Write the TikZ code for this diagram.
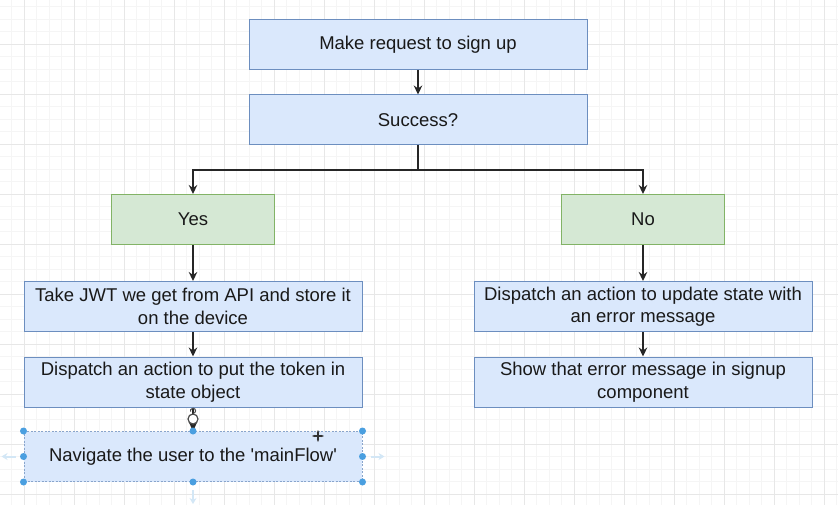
\documentclass[tikz,border=0pt]{standalone}
\usepackage{fontspec}
\setmainfont{Liberation Sans}
\usetikzlibrary{arrows.meta}

\definecolor{boxblue}{HTML}{DAE8FC}
\definecolor{edgeblue}{HTML}{6C8EBF}
\definecolor{boxgreen}{HTML}{D5E8D4}
\definecolor{edgegreen}{HTML}{82B366}
\definecolor{gridminor}{HTML}{F5F5F5}
\definecolor{gridmajor}{HTML}{E7E7E7}
\definecolor{handleblue}{HTML}{4A9FE0}
\definecolor{ghostblue}{HTML}{D3E7F6}

\tikzset{
  box/.style={draw=edgeblue, fill=boxblue, line width=1, minimum width=338, minimum height=50, inner sep=0, align=center, text=black!90, font=\fontsize{18.5}{22.5}\selectfont},
  answer/.style={box, draw=edgegreen, fill=boxgreen, minimum width=163},
  arr/.style={draw=black!85, line width=1.3, -{Stealth[length=9pt, width=8.5pt]}},
  handle/.style={circle, fill=handleblue, inner sep=0, minimum size=7},
  ghost/.style={draw=ghostblue, line width=2, -{Stealth[length=6pt, width=7pt]}}
}

\begin{document}
\begin{tikzpicture}[x=1pt, y=-1pt]
\useasboundingbox (0, 0) rectangle (838, 505);
\fill[white] (0, 0) rectangle (838, 505);
%Grid
\foreach \gx in {11.5, 24, ..., 838} \draw[gridminor, line width=0.8] (\gx, 0) -- (\gx, 505);
\foreach \gy in {6.5, 19, ..., 505} \draw[gridminor, line width=0.8] (0, \gy) -- (838, \gy);
\foreach \gx in {24, 74, ..., 838} \draw[gridmajor, line width=0.8] (\gx, 0) -- (\gx, 505);
\foreach \gy in {44, 94, ..., 505} \draw[gridmajor, line width=0.8] (0, \gy) -- (838, \gy);
%Boxes
\node[box] (request) at (418, 45) {Make request to sign up};
\node[box] (success) at (418, 120) {Success?};
\node[answer] (yes) at (193, 219.5) {Yes};
\node[answer] (no) at (643, 219.5) {No};
\node[box] (storejwt) at (193, 306.5) {Take JWT we get from API and store it\\on the device};
\node[box] (puttoken) at (193, 382) {Dispatch an action to put the token in\\state object};
\node[box, draw=edgeblue!80, dashed, dash pattern=on 2pt off 1.5pt] (navigate) at (193, 456.5) {Navigate the user to the \textquotesingle mainFlow\textquotesingle};
\node[box] (seterror) at (643, 306.5) {Dispatch an action to update state with\\an error message};
\node[box] (showerror) at (643, 382) {Show that error message in signup\\component};
%Arrows
\coordinate (split) at (418, 170);
\draw[arr] (request) -- (success);
\draw[draw=black!85, line width=1.3] (success) -- (split);
\draw[arr] (split) -| (yes);
\draw[arr] (split) -| (no);
\draw[arr] (yes) -- (storejwt);
\draw[arr] (storejwt) -- (puttoken);
\draw[arr] (puttoken) -- (navigate);
\draw[arr] (no) -- (seterror);
\draw[arr] (seterror) -- (showerror);
%Selection
\draw[ghost] (navigate.west) ++(-8, 0) -- ++(-14, 0);
\draw[ghost] (navigate.east) ++(8, 0) -- ++(14, 0);
\draw[ghost] (navigate.south) ++(0, 8) -- ++(0, 14);
\foreach \anc in {north west, north, north east, west, east, south west, south, south east}
  \node[handle] at (navigate.\anc) {};
\node[circle, draw=black!70, fill=white, line width=1.2, inner sep=0, minimum size=10] (rotate) at (193, 419) {};
\draw[black!70, line width=1] (rotate.north) arc(90:-200:2.6);
%Cursor
\coordinate (cursor) at (318, 436);
\draw[black!80, line width=1.2, {Stealth[length=3pt]}-{Stealth[length=3pt]}] (cursor) ++(-6, 0) -- ++(12, 0);
\draw[black!80, line width=1.2, {Stealth[length=3pt]}-{Stealth[length=3pt]}] (cursor) ++(0, -6) -- ++(0, 12);
\end{tikzpicture}
\end{document}
